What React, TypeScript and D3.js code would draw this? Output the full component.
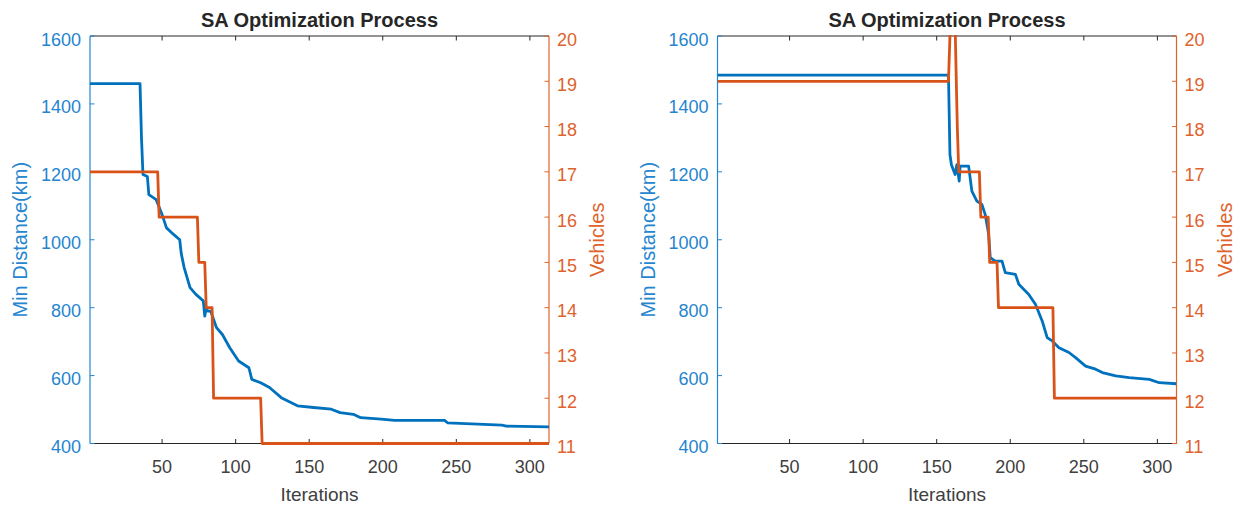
import React from 'react'
import * as d3 from 'd3'

const width = 1234
const height = 507
const blue = '#0072BD'
const orange = '#D95319'
const blueText = '#2585cf'
const orangeText = '#e0622c'
const font = 'Liberation Sans, Arial, sans-serif'

const xTicks = [50, 100, 150, 200, 250, 300]
const distTicks = [400, 600, 800, 1000, 1200, 1400, 1600]
const vehicleTicks = [11, 12, 13, 14, 15, 16, 17, 18, 19, 20]

// run 1
const iter1 = [1, 35, 36, 37, 40, 41, 46, 50, 53, 58, 62, 63, 65, 69, 73, 78, 79, 80, 81, 83, 87, 91, 96, 102, 109, 111, 117, 123, 131, 142, 153, 165, 171, 180, 185, 199, 208, 242, 244, 281, 284, 313]
const dist1 = [1460, 1460, 1300, 1192, 1186, 1133, 1118, 1074, 1035, 1015, 1000, 960, 918, 859, 839, 820, 775, 800, 790, 790, 741, 721, 682, 643, 623, 589, 579, 565, 535, 511, 506, 501, 491, 486, 476, 472, 468, 468, 461, 454, 451, 449]
const vIter1 = [1, 47, 48, 74, 75, 79, 80, 84, 85, 117, 118, 313]
const veh1 = [17, 17, 16, 16, 15, 15, 14, 14, 12, 12, 11, 11]

// run 2
const iter2 = [1, 158, 159, 160, 162.5, 163.7, 165.3, 165.9, 171.7, 173.9, 177.3, 180.7, 183, 185.3, 186.4, 189.8, 194.4, 196.6, 203.5, 205.8, 212.6, 217.1, 221.7, 225.1, 228.5, 233.1, 239.9, 244.4, 251.2, 258, 262.6, 271.7, 280.8, 294.5, 301.3, 313]
const dist2 = [1485, 1485, 1251, 1221, 1192, 1221, 1173, 1217, 1217, 1143, 1114, 1104, 1074, 1016, 947, 937, 937, 903, 898, 869, 839, 810, 761, 712, 702, 682, 668, 653, 628, 619, 609, 599, 594, 589, 579, 576]
const vIter2 = [1, 158, 160, 162, 164, 165, 179, 180, 185, 186, 191, 192, 229, 230, 313]
const veh2 = [19, 19, 21, 21, 18, 17, 17, 16, 16, 15, 15, 14, 14, 12, 12]

type PanelProps = {
  id: string
  left: number
  iters: number[]
  dists: number[]
  vIters: number[]
  vehicles: number[]
}

function Panel({ id, left, iters, dists, vIters, vehicles }: PanelProps) {
  const top = 36
  const bottom = 443.5
  const right = left + 459
  const x = d3.scaleLinear().domain([1, 313]).range([left, right])
  const yL = d3.scaleLinear().domain([400, 1600]).range([bottom, top])
  const yR = d3.scaleLinear().domain([11, 20]).range([bottom, top])
  const tl = 4.5

  const distLine = d3.line<number>().x((d, i) => x(iters[i])).y(d => yL(d))
  const vehLine = d3.line<number>().x((d, i) => x(vIters[i])).y(d => yR(d))
  const cx = (left + right) / 2

  return (
    <g>
      <defs>
        <clipPath id={id}>
          <rect x={left} y={top - 1} width={right - left} height={bottom - top + 3} />
        </clipPath>
      </defs>
      {/* box */}
      <line x1={left} x2={right} y1={bottom} y2={bottom} stroke='#262626' strokeWidth={1} />
      <line x1={left} x2={right} y1={top} y2={top} stroke='#262626' strokeWidth={1} />
      {xTicks.map(t => (
        <g key={t}>
          <line x1={x(t)} x2={x(t)} y1={bottom} y2={bottom - tl} stroke='#262626' />
          <line x1={x(t)} x2={x(t)} y1={top} y2={top + tl} stroke='#262626' />
          <text x={x(t)} y={bottom + 29.5} textAnchor='middle' fontSize={18} fill='#404040' fontFamily={font}>{t}</text>
        </g>
      ))}
      <line x1={left} x2={left} y1={top} y2={bottom} stroke={blueText} strokeWidth={1.2} />
      {distTicks.map(t => (
        <g key={t}>
          <line x1={left} x2={left + tl} y1={yL(t)} y2={yL(t)} stroke={blueText} />
          <text x={left - 9} y={yL(t) + 9.5} textAnchor='end' fontSize={18} fill={blueText} fontFamily={font}>{t}</text>
        </g>
      ))}
      <line x1={right} x2={right} y1={top} y2={bottom} stroke={orangeText} strokeWidth={1.2} />
      {vehicleTicks.map(t => (
        <g key={t}>
          <line x1={right} x2={right - tl} y1={yR(t)} y2={yR(t)} stroke={orangeText} />
          <text x={right + 8} y={yR(t) + 9.5} textAnchor='start' fontSize={18} fill={orangeText} fontFamily={font}>{t}</text>
        </g>
      ))}
      <g clipPath={`url(#${id})`} fill='none' strokeWidth={2.8} strokeLinejoin='round'>
        <path d={distLine(dists) ?? ''} stroke={blue} />
        <path d={vehLine(vehicles) ?? ''} stroke={orange} />
      </g>
      <text x={cx} y={27} textAnchor='middle' fontSize={20} fontWeight='bold' fill='#262626' fontFamily={font}>SA Optimization Process</text>
      <text x={cx} y={501} textAnchor='middle' fontSize={19} fill='#404040' fontFamily={font}>Iterations</text>
      <text transform={`translate(${left - 63}, ${(top + bottom) / 2}) rotate(-90)`} textAnchor='middle' fontSize={20} fill={blueText} fontFamily={font}>Min Distance(km)</text>
      <text transform={`translate(${right + 55}, ${(top + bottom) / 2}) rotate(-90)`} textAnchor='middle' fontSize={20} fill={orangeText} fontFamily={font}>Vehicles</text>
    </g>
  )
}

export default function App() {
  return (
    <svg width={width} height={height} style={{ display: 'block', position: 'absolute', left: 0, top: 0, background: '#fff' }}>
      <rect width={width} height={height} fill='#fff' />
      <Panel id='clip1' left={90} iters={iter1} dists={dist1} vIters={vIter1} vehicles={veh1} />
      <Panel id='clip2' left={717.5} iters={iter2} dists={dist2} vIters={vIter2} vehicles={veh2} />
    </svg>
  )
}
